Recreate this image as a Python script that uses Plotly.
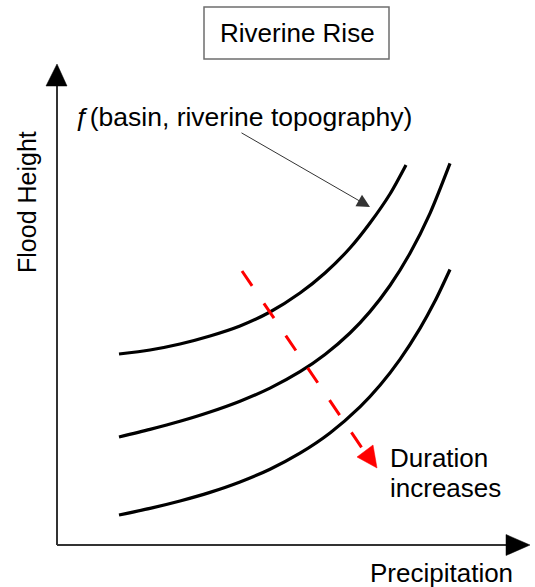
import plotly.graph_objects as go

# Conceptual curves: precipitation (x) vs flood height (y), origin at the axis corner
curve1_x = [62, 93, 123, 153, 183, 213, 243, 268, 293, 313, 333, 349]
curve1_y = [191, 195, 201, 209, 219, 233, 252, 272, 297, 322, 351, 380]
curve2_x = [62, 93, 123, 153, 183, 213, 243, 268, 293, 313, 333, 353, 373, 393]
curve2_y = [108, 115.6, 123.7, 133, 143.8, 156.9, 173.3, 190.5, 212, 233.4, 259.5, 291.7, 331.7, 381.6]
curve3_x = [62, 93, 123, 153, 183, 213, 243, 273, 303, 323, 343, 363, 378, 393]
curve3_y = [30, 36.6, 44, 52.6, 63, 75.8, 91.8, 112, 138.1, 159.7, 185.6, 216.6, 243.9, 275.5]

# Duration arrow (start, arrow-base) and its head
duration_x = [185, 307]
duration_y = [274, 94]
duration_head_x = [300, 320, 316, 300]
duration_head_y = [88, 77, 100, 88]

# Axes and their arrowheads
x_axis_x = [0, 449]
x_axis_y = [0, 0]
y_axis_x = [0, 0]
y_axis_y = [0, 459]
x_head_x = [449, 473, 449, 449]
x_head_y = [10.5, 0, -10.5, 10.5]
y_head_x = [-11, 0, 10, -11]
y_head_y = [459, 481, 459, 459]

title_text = "Riverine Rise"
func_text = "ƒ(basin, riverine topography)"
x_label = "Precipitation"
y_label = "Flood Height"
dur_line1 = "Duration"
dur_line2 = "increases"

FONT = "Liberation Sans, Arial, sans-serif"

fig = go.Figure()

for cx, cy in [(curve1_x, curve1_y), (curve2_x, curve2_y), (curve3_x, curve3_y)]:
    fig.add_trace(go.Scatter(x=cx, y=cy, mode="lines",
                             line=dict(color="black", width=3.2, shape="spline", smoothing=0.8),
                             hoverinfo="skip"))

# axes
fig.add_trace(go.Scatter(x=x_axis_x, y=x_axis_y, mode="lines",
                         line=dict(color="#333333", width=2), hoverinfo="skip"))
fig.add_trace(go.Scatter(x=y_axis_x, y=y_axis_y, mode="lines",
                         line=dict(color="#333333", width=2), hoverinfo="skip"))
for hx, hy in [(x_head_x, x_head_y), (y_head_x, y_head_y)]:
    fig.add_trace(go.Scatter(x=hx, y=hy, mode="lines", fill="toself",
                             fillcolor="black", line=dict(color="black", width=0.5),
                             hoverinfo="skip"))

# duration arrow
fig.add_trace(go.Scatter(x=duration_x, y=duration_y, mode="lines",
                         line=dict(color="#ff0000", width=3, dash="18px,21px"),
                         hoverinfo="skip"))
fig.add_trace(go.Scatter(x=duration_head_x, y=duration_head_y, mode="lines", fill="toself",
                         fillcolor="#ff0000", line=dict(color="#ff0000", width=0.5),
                         hoverinfo="skip"))

# title box
fig.add_shape(type="rect", x0=147, x1=332, y0=486, y1=538,
              line=dict(color="#6e6e6e", width=1.5), fillcolor="white")

ann_font = dict(family=FONT, size=26, color="black")
fig.add_annotation(x=240, y=512, text=title_text, showarrow=False, font=ann_font,
                   xanchor="center", yanchor="middle")
fig.add_annotation(x=16, y=428, text=func_text, showarrow=False,
                   font=dict(family=FONT, size=26.5, color="black"),
                   xanchor="left", yanchor="middle")
fig.add_annotation(x=331, y=87, text=dur_line1, showarrow=False, font=ann_font,
                   xanchor="left", yanchor="middle")
fig.add_annotation(x=331, y=57, text=dur_line2, showarrow=False, font=ann_font,
                   xanchor="left", yanchor="middle")
fig.add_annotation(x=384, y=-28, text=x_label, showarrow=False,
                   font=dict(family=FONT, size=26, color="black"),
                   xanchor="center", yanchor="middle")
fig.add_annotation(x=-30, y=343, text=y_label, showarrow=False, textangle=-90,
                   font=dict(family=FONT, size=25, color="black"),
                   xanchor="center", yanchor="middle")

# pointer arrow from the function label to the top curve
fig.add_annotation(x=313, y=338, ax=183, ay=413, axref="x", ayref="y",
                   xref="x", yref="y", text="", showarrow=True,
                   arrowhead=2, arrowsize=2.6, arrowwidth=1, arrowcolor="#333333")

fig.update_layout(
    width=535, height=587,
    margin=dict(l=0, r=0, t=0, b=0),
    paper_bgcolor="white", plot_bgcolor="white",
    showlegend=False,
    xaxis=dict(range=[-57, 478], visible=False, fixedrange=True),
    yaxis=dict(range=[-42, 545], visible=False, fixedrange=True),
)

fig.write_html("out.html",
               config={"displayModeBar": False, "staticPlot": True},
               post_script="document.body.style.margin='0px';document.body.style.overflow='hidden';")
